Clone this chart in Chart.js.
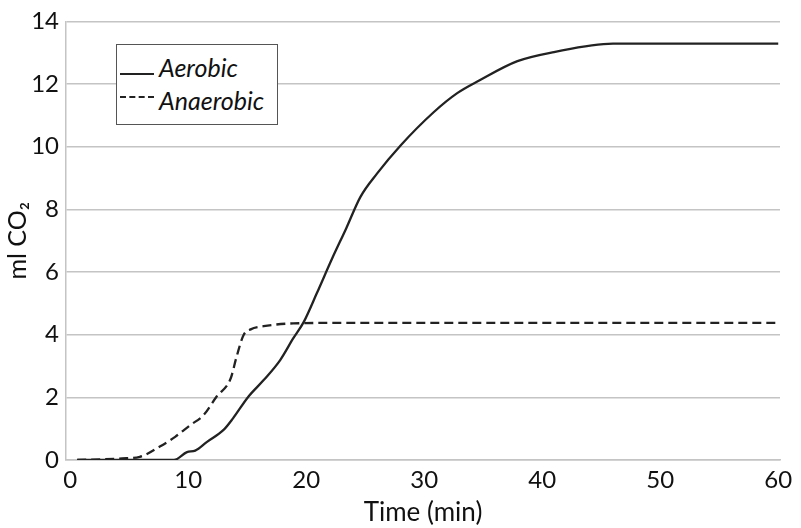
<!DOCTYPE html>
<html>
<head>
<meta charset="utf-8">
<script src="https://cdn.jsdelivr.net/npm/chart.js@4.4.1/dist/chart.umd.min.js"></script>
<style>
  html, body { margin: 0; padding: 0; background: #fff; }
  #wrap { position: relative; width: 801px; height: 528px; }
  #legend {
    position: absolute; left: 116px; top: 44px; width: 162px; height: 81px;
    border: 1px solid #555; background: #fff; box-sizing: border-box;
    font-family: Lato, sans-serif; font-style: italic; font-size: 25px; color: #111;
  }
  .row { position: absolute; left: 0; height: 30px; line-height: 30px; }
  .row span { position: absolute; left: 42px; white-space: nowrap; }
  .sample { position: absolute; left: 3px; width: 34px; height: 0; border-top: 2px solid #222; top: 21px; }
  .dash { border-top-style: dashed; }
</style>
</head>
<body>
<div id="wrap">
  <canvas id="myChart" width="801" height="528"></canvas>
  <div id="legend">
    <div class="row" style="top:7px"><div class="sample"></div><span>Aerobic</span></div>
    <div class="row" style="top:40px"><div class="sample dash" style="top:11px"></div><span>Anaerobic</span></div>
  </div>
</div>
<script>
// Data //
const aerobicTime = [0.6, 8.8, 9.9, 10.6, 11.6, 13.0, 13.8, 15.1, 16.4, 17.8, 18.9, 19.8, 20.9, 22.2, 23.4, 24.6, 26.0, 28.0, 30.8, 32.8, 34.7, 37.9, 41.0, 46.0, 60.0];
const aerobicVal = [0, 0, 0.25, 0.3, 0.58, 0.96, 1.33, 2.02, 2.55, 3.19, 3.88, 4.41, 5.32, 6.43, 7.4, 8.4, 9.14, 10.04, 11.1, 11.71, 12.12, 12.73, 13.02, 13.29, 13.29];

const anaerobicTime = [0.6, 4.4, 5.9, 7.6, 8.9, 10.2, 11.3, 12.4, 13.6, 14.1, 14.7, 15.3, 16.4, 18.9, 24.6, 60.0];
const anaerobicVal = [0, 0.05, 0.1, 0.43, 0.74, 1.12, 1.43, 2.02, 2.6, 3.29, 3.99, 4.17, 4.27, 4.36, 4.38, 4.38];

const xTicks = [0, 10, 20, 30, 40, 50, 60];
const yTicks = [0, 2, 4, 6, 8, 10, 12, 14];

const toPoints = (xs, ys) => xs.map((x, i) => ({ x: x, y: ys[i] }));

const fontName = "Lato, sans-serif";
const canvas = document.getElementById("myChart");

const myChart = new Chart(canvas.getContext("2d"), {
  type: "line",
  data: {
    datasets: [
      {
        label: "Aerobic",
        data: toPoints(aerobicTime, aerobicVal),
        borderColor: "#222",
        borderWidth: 2.3,
        pointRadius: 0,
        cubicInterpolationMode: "monotone"
      },
      {
        label: "Anaerobic",
        data: toPoints(anaerobicTime, anaerobicVal),
        borderColor: "#222",
        borderWidth: 2.3,
        borderDash: [9, 5],
        pointRadius: 0,
        cubicInterpolationMode: "monotone"
      }
    ]
  },
  options: {
    responsive: false,
    animation: false,
    layout: { padding: { left: 0, right: 21, top: 21, bottom: 0 } },
    plugins: { legend: { display: false }, tooltip: { enabled: false } },
    scales: {
      x: {
        type: "linear",
        min: -0.35,
        max: 60.15,
        afterBuildTicks: (scale) => { scale.ticks = xTicks.map(v => ({ value: v })); },
        afterFit: (scale) => { scale.height = 68; },
        grid: { display: false, drawTicks: false },
        border: { color: "#c4c4c4", width: 1.5 },
        ticks: { color: "#111", font: { family: fontName, size: 24 }, padding: 6, maxRotation: 0 },
        title: { display: true, text: "Time (min)", color: "#111", font: { family: fontName, size: 26 }, padding: { top: 0, bottom: 0 } }
      },
      y: {
        min: 0,
        max: 14,
        afterBuildTicks: (scale) => { scale.ticks = yTicks.map(v => ({ value: v })); },
        afterFit: (scale) => { scale.width = 66; },
        grid: { color: "#c4c4c4", lineWidth: 1.5, drawTicks: false },
        border: { color: "#c4c4c4", width: 1.5 },
        ticks: { color: "#111", font: { family: fontName, size: 24 }, padding: 7 },
        title: { display: true, text: "ml CO₂", color: "#111", font: { family: fontName, size: 25 }, padding: { top: 3, bottom: 0 } }
      }
    }
  }
});
</script>
</body>
</html>
